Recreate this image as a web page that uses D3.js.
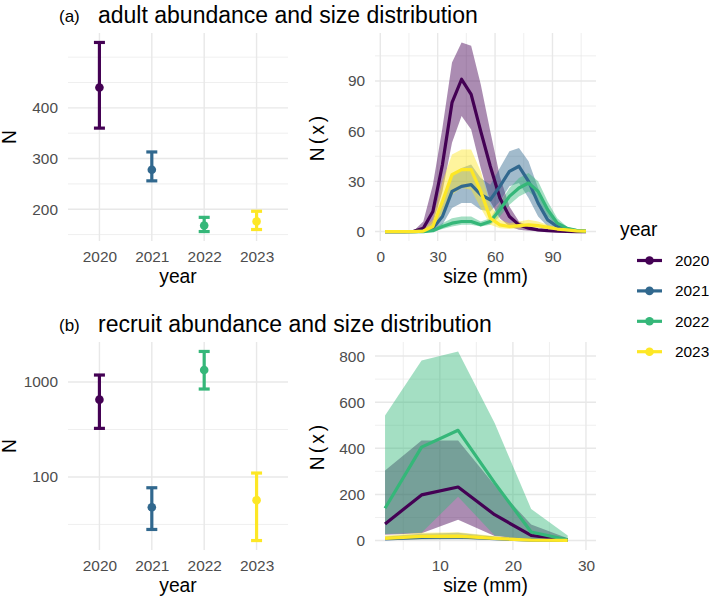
<!DOCTYPE html>
<html>
<head>
<meta charset="utf-8">
<script src="https://cdn.jsdelivr.net/npm/d3@7"></script>
<style>
  body { margin: 0; background: #fff; }
  text { font-family: 'Liberation Sans', Arial, sans-serif; }
</style>
</head>
<body>
<div id="chart"></div>
<script>
// ---- data ----
var years = ["2020", "2021", "2022", "2023"];
var colors = ["#440154", "#31688E", "#35B779", "#FDE725"];

// abundance estimates with intervals
var adultN    = [440, 278, 168, 176];
var adultLow  = [360, 256, 156, 160];
var adultHigh = [529, 313, 184, 196];

var recruitN    = [652, 48, 1338, 57];
var recruitLow  = [325, 28, 844, 21.4];
var recruitHigh = [1185, 77, 2099, 110];

// adult size distribution, one row per year
var adultSizes = [2.5, 7.5, 12.5, 17.5, 22.5, 27.5, 32.5, 37.5, 42.5, 47.5, 52.5,
  57.5, 62.5, 67.5, 72.5, 77.5, 82.5, 87.5, 92.5, 97.5, 102.5, 107.5];
var adultFit = [
  [0, 0, 0, 0.1, 2, 12, 40, 77, 91, 82, 60, 39, 20, 9, 4, 2, 1, 0.5, 0.3, 0.1, 0, 0],
  [0, 0, 0, 0, 0.2, 2, 9, 24, 27, 28, 22, 19, 27, 36, 39, 30, 17, 7, 3, 1, 0.5, 0.2],
  [0, 0, 0, 0, 0, 0.5, 3, 5, 6, 6, 4, 6, 13, 21, 26, 29, 24, 13, 5, 2, 0.7, 0.3],
  [0, 0, 0, 0, 0.3, 3, 18, 34, 37, 37, 24, 8, 4, 3, 3.5, 4, 3.5, 2.5, 1.5, 1, 0.4, 0.2]
];
var adultFitLow = [
  [0, 0, 0, 0, 0.5, 5, 24, 53, 69, 61, 38, 18, 8, 3, 1, 0.5, 0.2, 0.1, 0, 0, 0, 0],
  [0, 0, 0, 0, 0, 0.5, 4, 14, 17, 17, 13, 12, 18, 27, 29, 20, 9, 3, 1, 0.3, 0.1, 0],
  [0, 0, 0, 0, 0, 0.1, 1.5, 3, 4, 4, 3, 4, 9, 16, 21, 24, 19, 9, 3, 1, 0.3, 0.1],
  [0, 0, 0, 0, 0, 1, 9, 22, 26, 25, 14, 4, 2, 1.5, 2, 2, 2, 1.2, 0.6, 0.3, 0.1, 0]
];
var adultFitHigh = [
  [0, 0, 0, 0.5, 6, 28, 62, 101, 113, 111, 88, 60, 33, 15, 6, 3, 1.5, 0.8, 0.5, 0.2, 0.1, 0],
  [0, 0, 0, 0, 0.5, 5, 16, 34, 38, 40, 32, 28, 38, 48, 50, 42, 26, 12, 5, 2, 1, 0.5],
  [0, 0, 0, 0, 0, 1.5, 5, 8, 9, 9, 6, 8, 17, 26, 32, 35, 30, 18, 8, 3, 1, 0.5],
  [0, 0, 0, 0, 1, 7, 30, 46, 49, 49, 36, 16, 7, 5, 6, 7, 6, 4, 2.5, 1.5, 0.7, 0.4]
];

// recruit size distribution
var recruitSizes = [2.5, 7.5, 12.5, 17.5, 22.5, 27.5];
var recruitSizeRange = [2.5, 30];
var recruitFit = [
  [72, 198, 232, 112, 22, 3],
  [7, 14, 16, 8, 2, 0.4],
  [140, 405, 478, 250, 37, 3],
  [9, 18, 19, 9, 2, 0.4]
];
var recruitFitLow = [
  [25, 32, 90, 20, 3, 0],
  [2, 5, 6, 3, 0.5, 0],
  [28, 34, 190, 22, 3, 0],
  [3, 6, 7, 3, 0.5, 0]
];
var recruitFitHigh = [
  [304, 434, 434, 240, 70, 10],
  [18, 30, 34, 18, 5, 1],
  [542, 781, 820, 510, 137, 22],
  [22, 34, 36, 20, 6, 1]
];

// ---- layout ----
var width = 709, height = 598;
var leftX = [68, 288], rightX = [375, 596];
var topY = [241, 33], botY = [550, 342];
var gridCol = "#E8E8E8";

var svg = d3.select("#chart").append("svg")
  .attr("width", width).attr("height", height)
  .style("background", "#fff");

// ggplot style 5% expansion
var expand = function(ext) {
  var d = ext[1] - ext[0];
  return [ext[0] - 0.05 * d, ext[1] + 0.05 * d];
};

var hGrid = function(y, vals, xr, w) {
  svg.append("g").selectAll("line").data(vals).enter().append("line")
    .attr("x1", xr[0]).attr("x2", xr[1])
    .attr("y1", (d) => y(d)).attr("y2", (d) => y(d))
    .attr("stroke", gridCol).attr("stroke-width", w);
};
var vGrid = function(x, vals, yr, w) {
  svg.append("g").selectAll("line").data(vals).enter().append("line")
    .attr("y1", yr[0]).attr("y2", yr[1])
    .attr("x1", (d) => x(d)).attr("x2", (d) => x(d))
    .attr("stroke", gridCol).attr("stroke-width", w);
};

var styleAxis = function(g) {
  g.select(".domain").remove();
  g.selectAll("text").style("font-size", "15.4px").attr("fill", "#4D4D4D")
    .style("font-family", "'Liberation Sans', Arial, sans-serif");
};

var leftAxis = function(y, vals, xPos, fmt) {
  svg.append("g").attr("transform", "translate(" + xPos + ",0)")
    .call(d3.axisLeft(y).tickValues(vals).tickSize(0).tickPadding(10).tickFormat(fmt))
    .call(styleAxis);
};
var bottomAxis = function(x, vals, yPos, fmt) {
  svg.append("g").attr("transform", "translate(0," + yPos + ")")
    .call(d3.axisBottom(x).tickValues(vals).tickSize(0).tickPadding(10).tickFormat(fmt))
    .call(styleAxis);
};

var label = function(txt, x, y, size, opts) {
  opts = opts || {};
  var t = svg.append("text").attr("x", x).attr("y", y)
    .style("font-size", size + "px").attr("fill", opts.fill || "#000")
    .attr("text-anchor", opts.anchor || "start")
    .text(txt);
  if (opts.rotate) t.attr("transform", "rotate(-90," + x + "," + y + ")");
  if (opts.spacing) t.style("letter-spacing", opts.spacing + "px");
  return t;
};

// ---- abundance panels ----
var abundancePanel = function(N, lo, hi, yr, logScale, majors, minors) {
  var x = d3.scalePoint().domain(years).range(leftX).padding(0.6);
  var y;
  if (logScale) {
    var le = expand([Math.log10(d3.min(lo)), Math.log10(d3.max(hi))]);
    y = d3.scaleLog().domain([Math.pow(10, le[0]), Math.pow(10, le[1])]).range(yr);
  } else {
    y = d3.scaleLinear().domain(expand([d3.min(lo), d3.max(hi)])).range(yr);
  }
  hGrid(y, minors, leftX, 0.7);
  hGrid(y, majors, leftX, 1.4);
  vGrid(x, years, yr, 1.4);

  var rows = years.map((yy, i) => ({ year: yy, n: N[i], lo: lo[i], hi: hi[i], col: colors[i] }));
  var g = svg.append("g");
  var bars = g.selectAll("g").data(rows).enter().append("g");
  bars.append("line")
    .attr("x1", (d) => x(d.year)).attr("x2", (d) => x(d.year))
    .attr("y1", (d) => y(d.lo)).attr("y2", (d) => y(d.hi))
    .attr("stroke", (d) => d.col).attr("stroke-width", 3.2);
  ["lo", "hi"].forEach((k) => {
    bars.append("line")
      .attr("x1", (d) => x(d.year) - 5.5).attr("x2", (d) => x(d.year) + 5.5)
      .attr("y1", (d) => y(d[k])).attr("y2", (d) => y(d[k]))
      .attr("stroke", (d) => d.col).attr("stroke-width", 3.2);
  });
  bars.append("circle")
    .attr("cx", (d) => x(d.year)).attr("cy", (d) => y(d.n)).attr("r", 4.3)
    .attr("fill", (d) => d.col);

  leftAxis(y, majors, leftX[0], d3.format("d"));
  bottomAxis(x, years, yr[0], (d) => d);
};

abundancePanel(adultN, adultLow, adultHigh, topY, false, [200, 300, 400], [150, 250, 350, 450, 500]);
abundancePanel(recruitN, recruitLow, recruitHigh, botY, true, [100, 1000], [31.62, 316.2]);

// ---- size distribution panels ----
var sizePanel = function(sizes, xRange, fit, low, high, yr, xMaj, xMin, yMaj, yMin) {
  var x = d3.scaleLinear().domain(expand(xRange)).range(rightX);
  var allHigh = d3.max(high, (r) => d3.max(r));
  var y = d3.scaleLinear().domain(expand([0, allHigh])).range(yr);

  hGrid(y, yMin, rightX, 0.7);
  hGrid(y, yMaj, rightX, 1.4);
  vGrid(x, xMin, yr, 0.7);
  vGrid(x, xMaj, yr, 1.4);

  var area = d3.area()
    .x((d) => x(d.s)).y0((d) => y(d.lo)).y1((d) => y(d.hi));
  var line = d3.line().x((d) => x(d.s)).y((d) => y(d.v));

  var series = years.map((yy, i) => sizes.map((s, j) => ({
    s: s, v: fit[i][j], lo: low[i][j], hi: high[i][j]
  })));

  svg.append("g").selectAll("path").data(series).enter().append("path")
    .attr("d", area)
    .attr("fill", (d, i) => colors[i]).attr("fill-opacity", 0.45);
  svg.append("g").selectAll("path").data(series).enter().append("path")
    .attr("d", line)
    .attr("fill", "none").attr("stroke", (d, i) => colors[i])
    .attr("stroke-width", 3.2).attr("stroke-linejoin", "round");

  leftAxis(y, yMaj, rightX[0], d3.format("d"));
  bottomAxis(x, xMaj, yr[0], d3.format("d"));
};

sizePanel(adultSizes, d3.extent(adultSizes), adultFit, adultFitLow, adultFitHigh, topY,
  [0, 30, 60, 90], [15, 45, 75, 105], [0, 30, 60, 90], [15, 45, 75, 105]);
sizePanel(recruitSizes, recruitSizeRange, recruitFit, recruitFitLow, recruitFitHigh, botY,
  [10, 20, 30], [5, 15, 25], [0, 200, 400, 600, 800], [100, 300, 500, 700]);

// ---- titles and axis labels ----
label("(a)", 59, 21.5, 17);
label("adult abundance and size distribution", 98, 23, 23);
label("(b)", 59, 330.5, 17);
label("recruit abundance and size distribution", 98, 332, 23);

label("year", 178, 283, 19.3, { anchor: "middle" });
label("year", 178, 592, 19.3, { anchor: "middle" });
label("size (mm)", 485.5, 283, 19.3, { anchor: "middle" });
label("size (mm)", 485.5, 592, 19.3, { anchor: "middle" });

label("N", 16, 137, 19.3, { anchor: "middle", rotate: true });
label("N", 16, 446, 19.3, { anchor: "middle", rotate: true });
label("N(x)", 324, 137, 19.3, { anchor: "middle", rotate: true, spacing: 3 });
label("N(x)", 324, 446, 19.3, { anchor: "middle", rotate: true, spacing: 3 });

// ---- legend ----
label("year", 620, 236, 19.3);
var legend = svg.append("g").selectAll("g").data(years).enter().append("g")
  .attr("transform", (d, i) => "translate(0," + (260.5 + i * 30.4) + ")");
legend.append("line").attr("x1", 637).attr("x2", 662).attr("y1", 0).attr("y2", 0)
  .attr("stroke", (d, i) => colors[i]).attr("stroke-width", 3.2);
legend.append("circle").attr("cx", 649.5).attr("cy", 0).attr("r", 4.3)
  .attr("fill", (d, i) => colors[i]);
legend.append("text").attr("x", 675).attr("y", 0).attr("dy", "0.35em")
  .style("font-size", "15.4px").text((d) => d);
</script>
</body>
</html>
